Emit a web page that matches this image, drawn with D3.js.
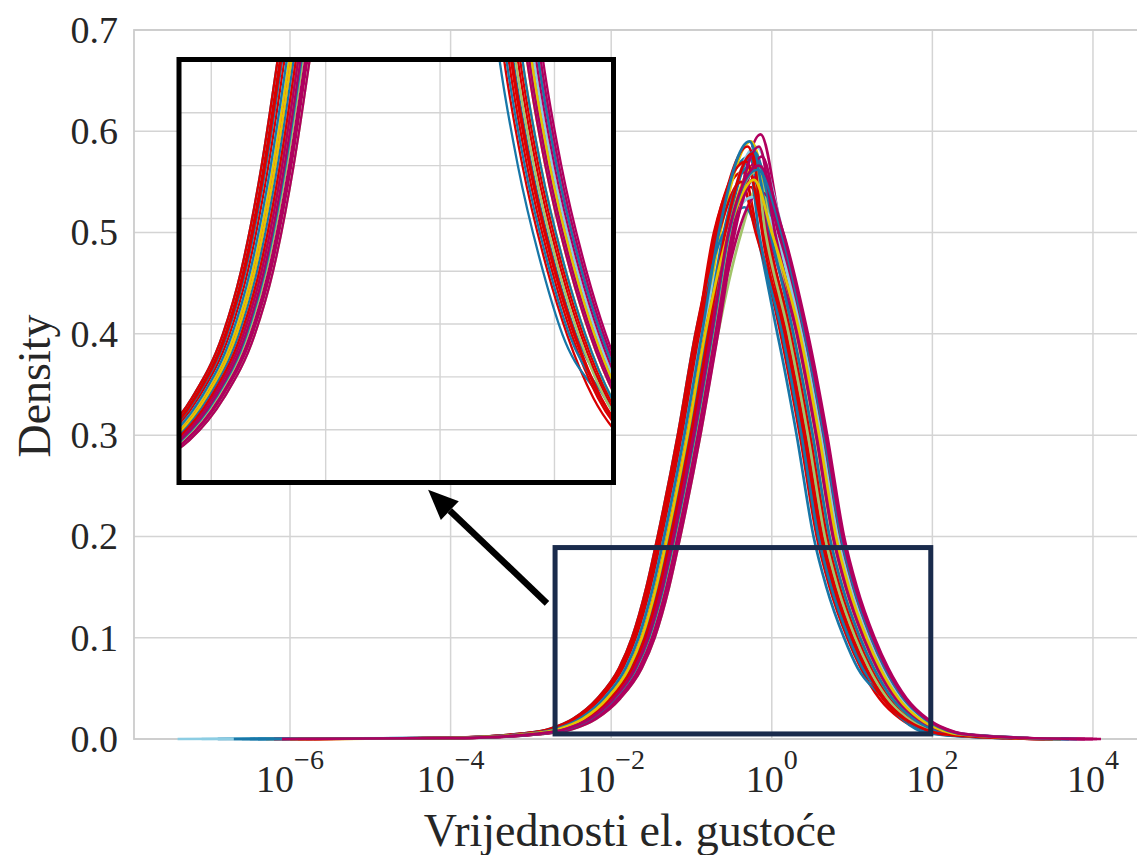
<!DOCTYPE html>
<html><head><meta charset="utf-8">
<script src="https://cdn.jsdelivr.net/npm/d3@7"></script>
<style>
body{margin:0;background:#fff}
svg{display:block}
text{font-family:"Liberation Serif","Times New Roman",serif;fill:#262626}
</style>
</head><body>
<svg id="chart" width="1137" height="855"></svg>
<script>
// density levels at which each curve's flanks were read (log10 positions)
const LEVELS = [0.001,0.005,0.01,0.02,0.04,0.07,0.1,0.15,0.2,0.3,0.4,0.5];

const SERIES_COLORS = ['#b0005f','#d90000','#1877a8','#8ccde3','#e6c400','#a2c46a','#b0005f','#d90000','#1877a8','#b0005f','#d90000','#1877a8','#e6c400','#b0005f','#d90000','#8ccde3','#1877a8','#b0005f','#d90000','#a2c46a','#1877a8','#b0005f','#d90000','#e6c400','#1877a8','#b0005f'];

const LEFT_LOG10 = [
[-3.88,-2.88,-2.50,-2.21,-1.91,-1.64,-1.48,-1.30,-1.16,-0.91,-0.69,-0.48],
[-4.12,-3.12,-2.74,-2.45,-2.15,-1.88,-1.72,-1.54,-1.40,-1.15,-0.93,-0.72],
[-4.10,-3.10,-2.72,-2.43,-2.13,-1.86,-1.70,-1.52,-1.38,-1.13,-0.91,-0.70],
[-3.98,-2.98,-2.60,-2.31,-2.01,-1.74,-1.58,-1.40,-1.26,-1.01,-0.79,-0.58],
[-4.04,-3.04,-2.66,-2.37,-2.07,-1.80,-1.64,-1.46,-1.32,-1.07,-0.85,-0.64],
[-3.86,-2.86,-2.48,-2.19,-1.89,-1.62,-1.46,-1.28,-1.14,-0.89,-0.67,-0.38],
[-3.92,-2.92,-2.54,-2.25,-1.95,-1.68,-1.52,-1.34,-1.20,-0.95,-0.73,-0.52],
[-4.08,-3.08,-2.70,-2.41,-2.11,-1.84,-1.68,-1.50,-1.36,-1.11,-0.89,-0.68],
[-4.14,-3.14,-2.76,-2.47,-2.17,-1.90,-1.74,-1.56,-1.42,-1.17,-0.95,null],
[-3.90,-2.90,-2.52,-2.23,-1.93,-1.66,-1.50,-1.32,-1.18,-0.93,-0.71,null],
[-4.02,-3.02,-2.64,-2.35,-2.05,-1.78,-1.62,-1.44,-1.30,-1.05,-0.83,-0.54],
[-3.96,-2.96,-2.58,-2.29,-1.99,-1.72,-1.56,-1.38,-1.24,-0.99,-0.77,-0.56],
[-3.94,-2.94,-2.56,-2.27,-1.97,-1.70,-1.54,-1.36,-1.22,-0.97,-0.75,-0.54],
[-3.86,-2.86,-2.48,-2.19,-1.89,-1.62,-1.46,-1.28,-1.14,-0.89,-0.67,-0.46],
[-4.14,-3.14,-2.76,-2.47,-2.17,-1.90,-1.74,-1.56,-1.42,-1.17,-0.95,-0.66],
[-4.06,-3.06,-2.68,-2.39,-2.09,-1.82,-1.66,-1.48,-1.34,-1.09,-0.87,null],
[-4.00,-3.00,-2.62,-2.33,-2.03,-1.76,-1.60,-1.42,-1.28,-1.03,-0.81,-0.60],
[-3.96,-2.96,-2.58,-2.29,-1.99,-1.72,-1.56,-1.38,-1.24,-0.99,-0.77,-0.48],
[-4.11,-3.11,-2.73,-2.44,-2.14,-1.87,-1.71,-1.53,-1.39,-1.14,-0.92,-0.71],
[-3.92,-2.92,-2.54,-2.25,-1.95,-1.68,-1.52,-1.34,-1.20,-0.95,-0.73,-0.52],
[-4.06,-3.06,-2.68,-2.39,-2.09,-1.82,-1.66,-1.48,-1.34,-1.09,-0.87,-0.66],
[-3.89,-2.89,-2.51,-2.22,-1.92,-1.65,-1.49,-1.31,-1.17,-0.92,-0.70,-0.49],
[-3.98,-2.98,-2.60,-2.31,-2.01,-1.74,-1.58,-1.40,-1.26,-1.01,-0.79,-0.58],
[-4.02,-3.02,-2.64,-2.35,-2.05,-1.78,-1.62,-1.44,-1.30,-1.05,-0.83,-0.54],
[-3.93,-2.93,-2.55,-2.26,-1.96,-1.69,-1.53,-1.35,-1.21,-0.96,-0.74,-0.53],
[-3.94,-2.94,-2.56,-2.27,-1.97,-1.70,-1.54,-1.36,-1.22,-0.97,-0.75,-0.54]
];

const RIGHT_LOG10 = [
[3.16,2.35,2.13,1.90,1.64,1.41,1.24,1.02,0.86,0.65,0.41,0.12],
[2.86,2.05,1.83,1.60,1.34,1.11,0.94,0.72,0.56,0.35,0.11,-0.18],
[2.94,2.13,1.91,1.68,1.48,1.19,1.02,0.80,0.64,0.43,0.19,-0.10],
[3.18,2.37,2.15,1.92,1.66,1.43,1.26,1.04,0.88,0.67,0.43,0.14],
[3.06,2.25,2.03,1.80,1.54,1.31,1.14,0.92,0.76,0.55,0.31,0.02],
[3.10,2.29,2.07,1.84,1.58,1.35,1.18,0.96,0.80,0.59,0.35,0.00],
[3.12,2.31,2.09,1.86,1.60,1.37,1.20,0.98,0.82,0.61,0.37,0.08],
[2.98,2.17,1.95,1.72,1.46,1.23,1.06,0.84,0.68,0.47,0.23,-0.06],
[2.82,2.01,1.79,1.62,1.40,1.07,0.90,0.68,0.52,0.31,0.07,null],
[3.20,2.39,2.17,1.94,1.68,1.45,1.28,1.06,0.90,0.69,0.45,null],
[3.00,2.19,1.97,1.74,1.48,1.25,1.08,0.86,0.70,0.49,0.25,-0.10],
[3.08,2.27,2.05,1.82,1.56,1.33,1.16,0.94,0.78,0.57,0.33,0.04],
[3.02,2.21,1.99,1.76,1.50,1.27,1.10,0.88,0.72,0.51,0.27,-0.02],
[3.14,2.33,2.11,1.88,1.62,1.39,1.22,1.00,0.84,0.63,0.39,0.10],
[2.90,2.09,1.87,1.64,1.38,1.15,0.98,0.76,0.60,0.39,0.15,-0.20],
[3.12,2.31,2.09,1.86,1.60,1.37,1.20,0.98,0.82,0.61,0.37,null],
[2.88,2.07,1.85,1.66,1.44,1.13,0.96,0.74,0.58,0.37,0.13,-0.16],
[3.06,2.25,2.03,1.80,1.54,1.31,1.14,0.92,0.76,0.55,0.31,-0.04],
[2.93,2.12,1.90,1.67,1.41,1.18,1.01,0.79,0.63,0.42,0.18,-0.11],
[2.96,2.15,1.93,1.70,1.44,1.21,1.04,0.82,0.66,0.45,0.21,-0.08],
[3.02,2.21,1.99,1.76,1.50,1.27,1.10,0.88,0.72,0.51,0.27,-0.02],
[3.08,2.27,2.05,1.82,1.56,1.33,1.16,0.94,0.78,0.57,0.33,0.04],
[2.92,2.11,1.89,1.66,1.40,1.17,1.00,0.78,0.62,0.41,0.17,-0.12],
[3.10,2.29,2.07,1.84,1.58,1.35,1.18,0.96,0.80,0.59,0.35,0.00],
[3.16,2.35,2.13,1.90,1.64,1.41,1.24,1.02,0.86,0.65,0.41,0.12],
[3.18,2.37,2.15,1.92,1.66,1.43,1.26,1.04,0.88,0.67,0.43,0.14]
];

const PEAK_LOG10 = [-0.14,-0.36,-0.28,-0.20,-0.26,-0.14,-0.18,-0.30,-0.34,-0.14,-0.26,-0.22,-0.22,-0.12,-0.38,-0.24,-0.28,-0.20,-0.32,-0.20,-0.28,-0.16,-0.24,-0.22,-0.18,-0.16];
const PEAK_DENSITY = [0.597,0.560,0.575,0.585,0.590,0.550,0.570,0.585,0.525,0.540,0.545,0.580,0.565,0.575,0.550,0.535,0.565,0.555,0.570,0.560,0.590,0.585,0.578,0.552,0.562,0.566];
const TAIL_START_LOG10 = [-6.1,-6.0,-6.6,-7.4,-5.8,-6.2,-5.9,-6.3,-6.9,-6.0,-5.7,-6.4,-5.9,-6.1,-6.2,-7.1,-6.5,-5.8,-6.0,-6.3,-6.7,-6.2,-5.9,-6.0,-6.4,-6.1];
const TAIL_END_LOG10 = [4.1,3.6,3.7,3.9,3.5,3.6,3.9,3.4,3.5,4.0,3.6,3.7,3.5,4.0,3.4,3.8,3.6,3.8,3.5,3.5,3.7,3.9,3.5,3.6,3.8,4.05];

const Y_TICKS = [0.0,0.1,0.2,0.3,0.4,0.5,0.6,0.7];
const X_TICK_EXP = [-6,-4,-2,0,2,4];
const INSET_X_GRID_EXP = [-2,-1,0,1];
const INSET_Y_GRID = [0.025,0.05,0.075,0.1,0.125,0.15,0.175];
const ZOOM_BOX = {x0:0.002, x1:95.5, y0:0.005, y1:0.189};
const X_LABEL = 'Vrijednosti el. gustoće';
const Y_LABEL = 'Density';

const svg = d3.select('#chart');

const x = d3.scaleLog().domain([Math.pow(10,-7.943), Math.pow(10,4.648)]).range([134,1145]);
const y = d3.scaleLinear().domain([0,0.7]).range([739,30]);

const ix = d3.scaleLog().domain([Math.pow(10,-2.282), Math.pow(10,1.516)]).range([179,613.5]);
const iy = d3.scaleLinear().domain([0,0.2]).range([482.5,60]);

function seriesPoints(i){
  const pts = [[Math.pow(10,TAIL_START_LOG10[i]),0]];
  LEVELS.forEach((lv,k)=>{ const u=LEFT_LOG10[i][k]; if(u!==null) pts.push([Math.pow(10,u),lv]); });
  pts.push([Math.pow(10,PEAK_LOG10[i]), PEAK_DENSITY[i]]);
  for(let k=LEVELS.length-1;k>=0;k--){ const u=RIGHT_LOG10[i][k]; if(u!==null) pts.push([Math.pow(10,u),LEVELS[k]]); }
  pts.push([Math.pow(10,TAIL_END_LOG10[i]),0]);
  return pts;
}
const data = SERIES_COLORS.map((c,i)=>({color:c, pts:seriesPoints(i)}));

const gridColor = '#d4d4d4';

const defs = svg.append('defs');
defs.append('clipPath').attr('id','mainClip').append('rect')
  .attr('x',134).attr('y',28).attr('width',1145-134).attr('height',739-28+2);
defs.append('clipPath').attr('id','insetClip').append('rect')
  .attr('x',179).attr('y',60).attr('width',613.5-179).attr('height',482.5-60);

// main grid
const g = svg.append('g');
g.selectAll('line.hg').data(Y_TICKS).join('line')
  .attr('x1',x.range()[0]).attr('x2',x.range()[1])
  .attr('y1',d=>y(d)).attr('y2',d=>y(d))
  .attr('stroke',gridColor).attr('stroke-width',1.5);
g.selectAll('line.vg').data(X_TICK_EXP).join('line')
  .attr('x1',d=>x(Math.pow(10,d))).attr('x2',d=>x(Math.pow(10,d)))
  .attr('y1',y(0)).attr('y2',y(0.7))
  .attr('stroke',gridColor).attr('stroke-width',1.5);
g.append('rect').attr('x',x.range()[0]).attr('y',y(0.7))
  .attr('width',x.range()[1]-x.range()[0]).attr('height',y(0)-y(0.7))
  .attr('fill','none').attr('stroke','#cccccc').attr('stroke-width',1.8);

// main lines
const line = d3.line().x(d=>x(d[0])).y(d=>y(d[1])).curve(d3.curveMonotoneX);
svg.append('g').attr('clip-path','url(#mainClip)')
  .selectAll('path').data(data).join('path')
  .attr('d',d=>line(d.pts)).attr('fill','none')
  .attr('stroke',d=>d.color).attr('stroke-width',2.7).attr('stroke-linejoin','round');

// y tick labels
svg.append('g').selectAll('text').data(Y_TICKS).join('text')
  .attr('x',118).attr('y',d=>y(d)).attr('dy','0.34em')
  .attr('text-anchor','end').attr('font-size',38)
  .text(d=>d.toFixed(1));

// x tick labels
const xt = svg.append('g').selectAll('text').data(X_TICK_EXP).join('text')
  .attr('x',d=>x(Math.pow(10,d))).attr('y',792)
  .attr('text-anchor','middle').attr('font-size',38);
xt.append('tspan').text('10');
xt.append('tspan').attr('dy',-23).attr('font-size',28).text(d=>d<0?'\u2212'+Math.abs(d):String(d));

// axis labels
svg.append('text').attr('x',630).attr('y',846).attr('text-anchor','middle')
  .attr('font-size',46).text(X_LABEL);
svg.append('text').attr('transform','translate(50,386) rotate(-90)')
  .attr('text-anchor','middle').attr('font-size',46).text(Y_LABEL);

// zoom box
svg.append('rect')
  .attr('x',x(ZOOM_BOX.x0)).attr('y',y(ZOOM_BOX.y1))
  .attr('width',x(ZOOM_BOX.x1)-x(ZOOM_BOX.x0)).attr('height',y(ZOOM_BOX.y0)-y(ZOOM_BOX.y1))
  .attr('fill','none').attr('stroke','#1a2b4c').attr('stroke-width',5);

// arrow (in data coords)
const tail = [x(Math.pow(10,-2.80)), y(0.134)];
const head = [x(Math.pow(10,-4.28)), y(0.246)];
const ang = Math.atan2(head[1]-tail[1], head[0]-tail[0]);
const hl = 30, hw = 13;
const base = [head[0]-hl*Math.cos(ang), head[1]-hl*Math.sin(ang)];
svg.append('line').attr('x1',tail[0]).attr('y1',tail[1]).attr('x2',base[0]).attr('y2',base[1])
  .attr('stroke','#000').attr('stroke-width',6.5);
svg.append('polygon').attr('points',[
  head,
  [base[0]+hw*Math.sin(ang), base[1]-hw*Math.cos(ang)],
  [base[0]-hw*Math.sin(ang), base[1]+hw*Math.cos(ang)]
].map(p=>p.join(',')).join(' ')).attr('fill','#000');

// inset
const ig = svg.append('g');
ig.append('rect').attr('x',179).attr('y',60).attr('width',613.5-179).attr('height',482.5-60).attr('fill','#fff');
ig.selectAll('line.ih').data(INSET_Y_GRID).join('line')
  .attr('x1',179).attr('x2',613.5).attr('y1',d=>iy(d)).attr('y2',d=>iy(d))
  .attr('stroke',gridColor).attr('stroke-width',1.4);
ig.selectAll('line.iv').data(INSET_X_GRID_EXP).join('line')
  .attr('x1',d=>ix(Math.pow(10,d))).attr('x2',d=>ix(Math.pow(10,d)))
  .attr('y1',60).attr('y2',482.5)
  .attr('stroke',gridColor).attr('stroke-width',1.4);
const iline = d3.line().x(d=>ix(d[0])).y(d=>iy(d[1])).curve(d3.curveMonotoneX);
ig.append('g').attr('clip-path','url(#insetClip)')
  .selectAll('path').data(data).join('path')
  .attr('d',d=>iline(d.pts)).attr('fill','none')
  .attr('stroke',d=>d.color).attr('stroke-width',2.3);
ig.append('rect').attr('x',179).attr('y',59.5).attr('width',613.5-179).attr('height',482.5-59.5)
  .attr('fill','none').attr('stroke','#000').attr('stroke-width',5);
</script>
</body></html>
